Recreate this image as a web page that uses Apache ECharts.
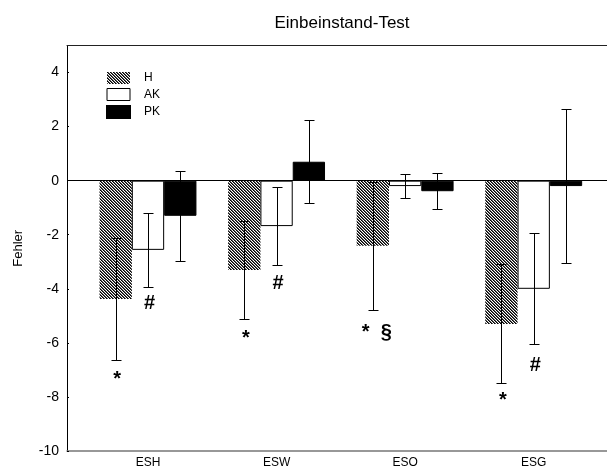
<!DOCTYPE html>
<html><head><meta charset="utf-8">
<script src="https://cdn.jsdelivr.net/npm/echarts@6/dist/echarts.min.js"></script>
<style>html,body{margin:0;padding:0;background:#fff}#c{width:607px;height:472px}</style>
</head><body><div id="c"></div>
<script>
const categories = ['ESH', 'ESW', 'ESO', 'ESG'];
const seriesNames = ['H', 'AK', 'PK'];
const meanH  = [-4.38, -3.30, -2.41, -5.30];
const meanAK = [-2.56, -1.68, -0.20, -4.00];
const meanPK = [-1.30, 0.70, -0.39, -0.20];
const errH  = [2.25, 1.82, 2.37, 2.20];
const errAK = [1.36, 1.44, 0.45, 2.05];
const errPK = [1.66, 1.53, 0.66, 2.84];
const yTicks = [-10, -8, -6, -4, -2, 0, 2, 4];
// significance marks: category index, series index, y value, text
const annCat = [0, 0, 1, 1, 2, 3, 3];
const annSer = [0, 1, 0, 1, 0, 0, 1];
const annY   = [-7.35, -4.56, -5.83, -3.81, -5.62, -8.14, -6.84];
const annText = ['*', '#', '*', '#', '*  §', '*', '#'];

const means = [meanH, meanAK, meanPK];
const errs = [errH, errAK, errPK];

const FONT = 'Liberation Sans, Arial, sans-serif';
const BAR_W = 32.3;
const CAP = 5;

// hatch pattern
const pc = document.createElement('canvas');
pc.width = 3; pc.height = 3;
const pctx = pc.getContext('2d');
const img = pctx.createImageData(3, 3);
for (let y = 0; y < 3; y++) for (let x = 0; x < 3; x++) {
  const k = ((x - y) % 3 + 3) % 3;
  const v = k === 0 ? 0 : (k === 1 ? 90 : 255);
  const i = (y * 3 + x) * 4;
  img.data[i] = v; img.data[i + 1] = v; img.data[i + 2] = v; img.data[i + 3] = 255;
}
pctx.putImageData(img, 0, 0);
const hatch = { image: pc, repeat: 'repeat' };

const fills = [hatch, '#ffffff', '#000000'];
const borders = [null, '#000', '#000'];

const chart = echarts.init(document.getElementById('c'), null, { renderer: 'canvas' });

const barSeries = seriesNames.map((n, s) => ({
  name: n,
  type: 'bar',
  xAxisIndex: 0, yAxisIndex: 0,
  barWidth: BAR_W,
  barGap: '0%',
  data: means[s].map((v, i) => [i + 1, v]),
  itemStyle: {
    color: fills[s],
    borderColor: borders[s] || 'transparent',
    borderWidth: borders[s] ? 1 : 0
  },
  emphasis: { disabled: true },
  silent: true,
  markLine: s === 0 ? {
    silent: true, symbol: 'none', label: { show: false },
    lineStyle: { color: '#000', width: 1, type: 'solid' },
    data: [{ yAxis: 0 }]
  } : undefined,
  z: 2
}));

const errData = [];
seriesNames.forEach((n, s) => {
  categories.forEach((c, i) => errData.push([i + 1, means[s][i], errs[s][i], s]));
});

const errSeries = {
  type: 'custom',
  xAxisIndex: 0, yAxisIndex: 0,
  silent: true,
  z: 5,
  encode: { x: 0, y: 1 },
  data: errData,
  renderItem: function (params, api) {
    const x = api.value(0), m = api.value(1), e = api.value(2), s = api.value(3);
    const top = api.coord([x, m + e]);
    const bot = api.coord([x, m - e]);
    const cx = Math.round(top[0] + (s - 1) * BAR_W) + 0.5;
    const ty = Math.round(top[1]) + 0.5, by = Math.round(bot[1]) + 0.5;
    const st = { stroke: '#000', lineWidth: 1 };
    return {
      type: 'group', children: [
        { type: 'line', shape: { x1: cx, y1: ty, x2: cx, y2: by }, style: st },
        { type: 'line', shape: { x1: cx - CAP, y1: ty, x2: cx + CAP, y2: ty }, style: st },
        { type: 'line', shape: { x1: cx - CAP, y1: by, x2: cx + CAP, y2: by }, style: st }
      ]
    };
  }
};

const annSeries = {
  type: 'custom',
  xAxisIndex: 0, yAxisIndex: 0,
  silent: true,
  z: 6,
  encode: { x: 0, y: 1 },
  data: annCat.map((c, i) => [c + 1, annY[i], annSer[i]]),
  renderItem: function (params, api) {
    const p = api.coord([api.value(0), api.value(1)]);
    const s = api.value(2);
    const txt = annText[params.dataIndex];
    return {
      type: 'text',
      x: p[0] + (s - 1) * BAR_W + (txt.length > 1 ? 4 : 1.5),
      y: p[1],
      style: {
        text: txt,
        font: 'bold 20px ' + FONT,
        fill: '#000',
        align: 'center',
        verticalAlign: 'middle'
      }
    };
  }
};

chart.setOption({
  animation: false,
  backgroundColor: '#fff',
  title: {
    text: 'Einbeinstand-Test',
    left: 337, top: 10,
    textAlign: 'center',
    textStyle: { fontFamily: FONT, fontSize: 17, fontWeight: 'normal', color: '#000' }
  },
  legend: {
    data: [
      { name: 'H', itemStyle: { borderWidth: 0 } },
      { name: 'AK', itemStyle: { borderWidth: 1, borderColor: '#000' } },
      { name: 'PK' }
    ],
    orient: 'vertical',
    left: 106, top: 72,
    padding: 0,
    icon: 'rect',
    itemWidth: 23, itemHeight: 12,
    itemGap: 4,
    selectedMode: false,
    textStyle: { fontFamily: FONT, fontSize: 12, color: '#000', padding: [0, 0, 0, 9] }
  },
  grid: { left: 67, right: 0, top: 45.5, bottom: 21, containLabel: false },
  xAxis: [{
    type: 'value',
    min: 0.37, max: 4.57,
    position: 'bottom',
    axisLine: { onZero: false, lineStyle: { color: '#777', width: 1.5 } },
    axisTick: { show: false },
    splitLine: { show: false },
    axisLabel: {
      customValues: [1, 2, 3, 4],
      formatter: v => categories[Math.round(v) - 1] || '',
      fontFamily: FONT, fontSize: 12, color: '#000', margin: 6
    }
  }, {
    type: 'value',
    min: 0.37, max: 4.57,
    position: 'top',
    axisLine: { onZero: false, lineStyle: { color: '#222', width: 1 } },
    axisTick: { show: false },
    splitLine: { show: false },
    axisLabel: { show: false }
  }],
  yAxis: {
    type: 'value',
    min: -10, max: 5, interval: 2,
    name: 'Fehler',
    nameLocation: 'middle',
    nameGap: 42,
    nameTextStyle: { fontFamily: FONT, fontSize: 13, color: '#000' },
    axisLine: { show: true, onZero: false, lineStyle: { color: '#000', width: 1 } },
    axisTick: { show: true, inside: true, length: 2, lineStyle: { color: '#000' } },
    splitLine: { show: false },
    axisLabel: {
      showMaxLabel: false,
      fontFamily: FONT, fontSize: 14, color: '#000', margin: 8,
      formatter: v => (yTicks.indexOf(v) >= 0 ? String(v) : '')
    }
  },
  series: [...barSeries, errSeries, annSeries]
});
</script></body></html>
